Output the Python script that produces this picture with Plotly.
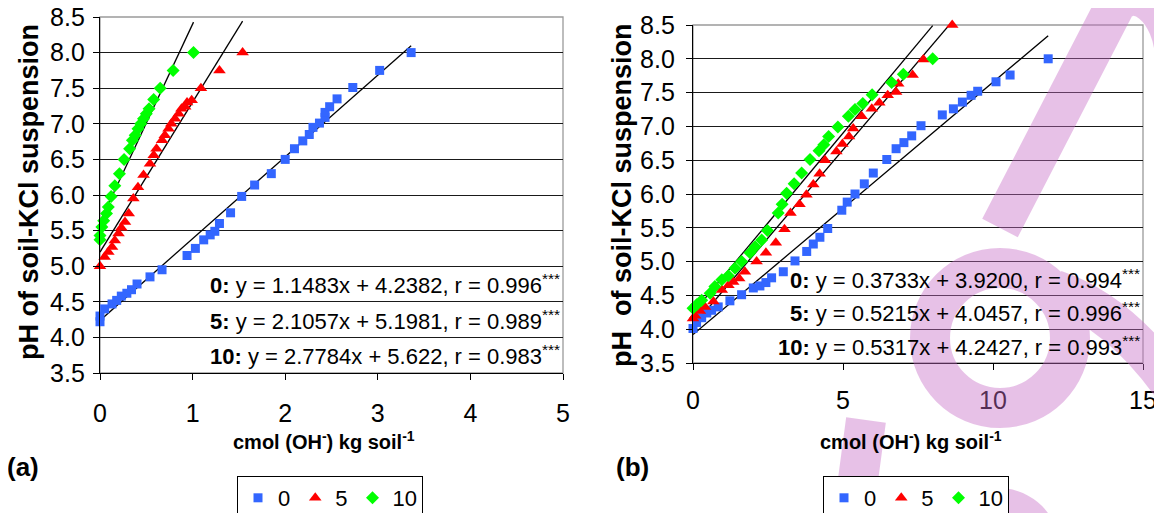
import plotly.graph_objects as go

W, H = 1162, 513
OFF = 8  # the page body adds an 8 px margin; layout positions are given in screen pixels

# ---------------- data: panel (a) ----------------
a0_x = [0, 0, 0.05, 0.13, 0.18, 0.23, 0.29, 0.34, 0.40, 0.54, 0.67, 0.94, 1.03, 1.12, 1.19, 1.24,
        1.29, 1.41, 1.53, 1.67, 1.85, 2.00, 2.10, 2.19, 2.26, 2.30, 2.37, 2.43, 2.43, 2.48, 2.56,
        2.73, 3.02, 3.36]
a0_y = [4.22, 4.30, 4.40, 4.47, 4.52, 4.58, 4.62, 4.67, 4.75, 4.85, 4.95, 5.15, 5.25, 5.37, 5.44, 5.49,
        5.60, 5.75, 5.98, 6.14, 6.30, 6.50, 6.65, 6.76, 6.85, 6.95, 7.01, 7.09, 7.16, 7.24, 7.35,
        7.51, 7.75, 8.00]
a5_x = [0, 0.05, 0.09, 0.13, 0.16, 0.20, 0.23, 0.27, 0.31, 0.36, 0.41, 0.47, 0.54, 0.58, 0.61, 0.67,
        0.70, 0.74, 0.77, 0.81, 0.85, 0.88, 0.92, 0.94, 0.99, 1.09, 1.29, 1.54]
a5_y = [5.00, 5.13, 5.20, 5.27, 5.36, 5.46, 5.54, 5.62, 5.74, 5.95, 6.11, 6.28, 6.44, 6.56, 6.65, 6.77,
        6.84, 6.93, 7.00, 7.07, 7.14, 7.21, 7.24, 7.30, 7.33, 7.50, 7.75, 8.00]
a10_x = [0, 0, 0.02, 0.04, 0.07, 0.09, 0.12, 0.16, 0.21, 0.26, 0.32, 0.35, 0.38, 0.41, 0.44, 0.47,
         0.50, 0.53, 0.58, 0.65, 0.79, 1.01]
a10_y = [5.37, 5.43, 5.55, 5.64, 5.74, 5.83, 5.98, 6.13, 6.30, 6.50, 6.65, 6.77, 6.84, 6.93, 7.00, 7.07,
         7.14, 7.21, 7.34, 7.50, 7.75, 8.00]

# ---------------- data: panel (b) ----------------
b0_x = [0, 0.12, 0.29, 0.46, 0.62, 0.84, 1.23, 1.62, 2.01, 2.23, 2.43, 2.62, 3.01, 3.40, 3.79, 4.01,
        4.23, 4.49, 4.96, 5.14, 5.40, 5.71, 6.01, 6.46, 6.77, 7.03, 7.29, 7.60, 8.31, 8.68, 8.98,
        9.27, 9.49, 10.10, 10.57, 11.84]
b0_y = [4.01, 4.10, 4.17, 4.24, 4.28, 4.33, 4.42, 4.51, 4.61, 4.64, 4.69, 4.76, 4.85, 5.01, 5.15, 5.26,
        5.36, 5.49, 5.76, 5.88, 6.00, 6.15, 6.31, 6.51, 6.67, 6.76, 6.86, 7.01, 7.17, 7.26, 7.36,
        7.46, 7.52, 7.66, 7.76, 8.00]
b5_x = [0, 0.07, 0.23, 0.40, 0.68, 0.96, 1.18, 1.34, 1.54, 1.73, 2.12, 2.43, 2.76, 3.05, 3.25, 3.55,
        3.78, 4.01, 4.22, 4.40, 4.78, 4.98, 5.20, 5.34, 5.62, 5.96, 6.21, 6.49, 6.77, 6.84, 7.32,
        7.68, 8.64]
b5_y = [4.16, 4.20, 4.27, 4.33, 4.41, 4.58, 4.65, 4.70, 4.75, 4.85, 5.00, 5.13, 5.28, 5.48, 5.72, 5.85,
        5.99, 6.14, 6.30, 6.50, 6.63, 6.74, 6.85, 6.97, 7.15, 7.26, 7.35, 7.46, 7.51, 7.63, 7.76,
        7.99, 8.50]
b10_x = [0, 0.12, 0.29, 0.57, 0.73, 0.96, 1.18, 1.40, 1.62, 1.90, 2.07, 2.29, 2.48, 2.84, 2.97, 3.12,
         3.37, 3.62, 3.90, 4.20, 4.36, 4.52, 4.83, 5.18, 5.40, 5.66, 5.97, 6.62, 7.01, 7.99]
b10_y = [4.31, 4.36, 4.43, 4.53, 4.63, 4.73, 4.79, 4.90, 5.00, 5.13, 5.22, 5.32, 5.46, 5.72, 5.85, 6.01,
         6.15, 6.31, 6.51, 6.64, 6.73, 6.85, 6.99, 7.15, 7.25, 7.34, 7.47, 7.65, 7.77, 8.00]

# regression equations (slope, intercept text, r) as printed on the chart
fits_a = {"0": (1.1483, "4.2382", "0.996"), "5": (2.1057, "5.1981", "0.989"), "10": (2.7784, "5.622", "0.983")}
fits_b = {"0": (0.3733, "3.9200", "0.994"), "5": (0.5215, "4.0457", "0.996"), "10": (0.5317, "4.2427", "0.993")}

series_names = ["0", "5", "10"]
colors = {"0": "#3366ff", "5": "#ff0000", "10": "#00ff00"}
symbols = {"0": "square", "5": "triangle-up", "10": "diamond"}
sizes = {"0": 9, "5": 11, "10": 10}

y_ticks = [3.5, 4.0, 4.5, 5.0, 5.5, 6.0, 6.5, 7.0, 7.5, 8.0, 8.5]
xa_ticks = [0, 1, 2, 3, 4, 5]
xb_ticks = [0, 5, 10, 15]

FONT = "Arial, Liberation Sans, sans-serif"


def px(x):
    return (x - OFF) / W


def py(y):
    return 1 - (y - OFF) / H


fig = go.Figure()

panels = [
    ("x", "y", {"0": (a0_x, a0_y), "5": (a5_x, a5_y), "10": (a10_x, a10_y)}, fits_a, "legend"),
    ("x2", "y2", {"0": (b0_x, b0_y), "5": (b5_x, b5_y), "10": (b10_x, b10_y)}, fits_b, "legend2"),
]

for xa, ya, data, fits, lg in panels:
    for name in series_names:
        xs, ys = data[name]
        m, b_txt, _ = fits[name]
        b = float(b_txt)
        x0, x1 = min(xs), max(xs)
        fig.add_trace(go.Scatter(x=[x0, x1], y=[m * x0 + b, m * x1 + b], mode="lines",
                                 line=dict(color="black", width=1.3), showlegend=False,
                                 xaxis=xa, yaxis=ya, hoverinfo="skip"))
    for name in series_names:
        xs, ys = data[name]
        fig.add_trace(go.Scatter(x=xs, y=ys, mode="markers", name=name,
                                 marker=dict(symbol=symbols[name], color=colors[name], size=sizes[name],
                                             line=dict(width=0)),
                                 cliponaxis=False, xaxis=xa, yaxis=ya, legend=lg))

# plot area boxes in screen pixels
A = dict(l=100, r=563, t=17, b=373)
B = dict(l=693, r=1143, t=25, b=363)

TICK = dict(family=FONT, size=25, color="black")
common_y = dict(range=[3.5, 8.5], tickvals=y_ticks, tickformat=".1f", showgrid=True,
                gridcolor="#1a1a1a", gridwidth=1, zeroline=False, showline=True, linecolor="black",
                linewidth=1.3, ticks="outside", ticklen=6, tickcolor="black", tickfont=TICK,
                automargin=False, ticklabeloverflow="allow")
common_x = dict(showgrid=False, zeroline=False, showline=True, linecolor="black", linewidth=1.3,
                ticks="outside", ticklen=6, tickcolor="black", tickfont=TICK, automargin=False,
                ticklabeloverflow="allow")

fig.update_layout(
    template="none",
    width=W, height=H, margin=dict(l=0, r=0, t=0, b=0, autoexpand=False),
    paper_bgcolor="white", plot_bgcolor="white",
    xaxis=dict(domain=[px(A["l"]), px(A["r"])], range=[0, 5], tickvals=xa_ticks, anchor="y",
               ticklabelstandoff=12, **common_x),
    yaxis=dict(domain=[py(A["b"]), py(A["t"])], anchor="x", ticklabelstandoff=3, **common_y),
    xaxis2=dict(domain=[px(B["l"]), px(B["r"])], range=[0, 15], tickvals=xb_ticks, anchor="y2",
                ticklabelstandoff=9, **common_x),
    yaxis2=dict(domain=[py(B["b"]), py(B["t"])], anchor="x2", ticklabelstandoff=6, **common_y),
    legend=dict(orientation="h", x=px(330), xanchor="center", y=py(476), yanchor="top",
                bordercolor="black", borderwidth=1, bgcolor="white",
                font=dict(family=FONT, size=22, color="black"), itemwidth=30),
    legend2=dict(orientation="h", x=px(916), xanchor="center", y=py(476), yanchor="top",
                 bordercolor="black", borderwidth=1, bgcolor="white",
                 font=dict(family=FONT, size=22, color="black"), itemwidth=30),
)

# plot borders (grey top/right)
for box in (A, B):
    fig.add_shape(type="rect", xref="paper", yref="paper", x0=px(box["l"]), x1=px(box["r"]),
                  y0=py(box["b"]), y1=py(box["t"]), line=dict(color="#9a9a9a", width=1.3),
                  layer="below")

# regression annotations
rows_y = {"0": 4.75, "5": 4.25, "10": 3.75}
for xa, ya, fits in (("x", "y", fits_a), ("x2", "y2", fits_b)):
    for name in series_names:
        m, b_txt, r = fits[name]
        txt = f"<b>{name}:</b> y = {m:.4f}x + {b_txt}, r = {r}<sup>***</sup>"
        fig.add_annotation(x=1, xref=f"{xa} domain", y=rows_y[name], yref=ya, text=txt,
                           showarrow=False, xanchor="right", yanchor="middle", xshift=-1,
                           font=dict(family=FONT, size=22, color="black"))

# axis titles and panel labels
title_font = dict(family=FONT, size=20, color="black")
for cx in (324, 911):
    fig.add_annotation(x=px(cx), y=py(440), xref="paper", yref="paper", showarrow=False,
                       text="<b>cmol (OH<sup>-</sup>) kg soil<sup>-1</sup></b>",
                       xanchor="center", yanchor="middle", font=title_font)
ytitle_font = dict(family=FONT, size=27, color="black")
fig.add_annotation(x=px(29), y=py(192), xref="paper", yref="paper", showarrow=False, textangle=-90,
                   text="<b>pH of soil-KCl suspension</b>", xanchor="center", yanchor="middle",
                   font=ytitle_font)
fig.add_annotation(x=px(622), y=py(195), xref="paper", yref="paper", showarrow=False, textangle=-90,
                   text="<b>pH  of soil-KCl suspension</b>", xanchor="center", yanchor="middle",
                   font=ytitle_font)
fig.add_annotation(x=px(23), y=py(467), xref="paper", yref="paper", showarrow=False,
                   text="<b>(a)</b>", xanchor="center", yanchor="middle",
                   font=dict(family=FONT, size=26, color="black"))
fig.add_annotation(x=px(632), y=py(467), xref="paper", yref="paper", showarrow=False,
                   text="<b>(b)</b>", xanchor="center", yanchor="middle",
                   font=dict(family=FONT, size=26, color="black"))


# ---------------- pink watermark (decoration, approximated) ----------------
def P(x, y):
    return f"{px(x):.5f},{py(y):.5f}"


def circle_path(cx, cy, r):
    k = 0.5523 * r
    return (f"M{P(cx + r, cy)} C{P(cx + r, cy + k)} {P(cx + k, cy + r)} {P(cx, cy + r)} "
            f"C{P(cx - k, cy + r)} {P(cx - r, cy + k)} {P(cx - r, cy)} "
            f"C{P(cx - r, cy - k)} {P(cx - k, cy - r)} {P(cx, cy - r)} "
            f"C{P(cx + k, cy - r)} {P(cx + r, cy - k)} {P(cx + r, cy)} Z")


wm_path = " ".join([
    f"M{P(1000, 228)} L{P(1122, -8)}",
    f"M{P(1110, 10)} C{P(1135, -25)} {P(1175, 10)} {P(1175, 60)}",
    circle_path(1000, 338, 70),
    f"M{P(1055, 290)} C{P(1100, 305)} {P(1140, 340)} {P(1175, 390)}",
    f"M{P(852, 525)} L{P(866, 420)}",
    f"M{P(955, 530)} C{P(970, 500)} {P(1020, 500)} {P(1035, 530)}",
])
fig.add_shape(type="path", xref="paper", yref="paper", path=wm_path,
              line=dict(color="rgb(200,110,200)", width=40), opacity=0.42, layer="above")

fig.write_html("out.html")
